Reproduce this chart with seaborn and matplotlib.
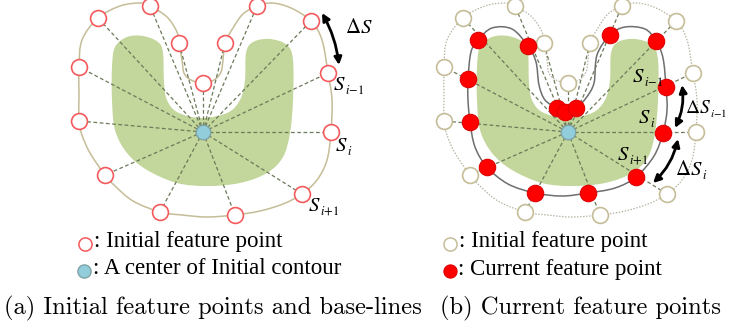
import numpy as np
import pandas as pd
import matplotlib
matplotlib.use("Agg")
import matplotlib.pyplot as plt
import seaborn as sns
from matplotlib.path import Path
from matplotlib.patches import PathPatch, FancyArrowPatch

# ---------------- data (pixel coordinates, panel-local) ----------------
init_x = [98, 150, 179, 203, 225, 257, 311, 328, 331, 302, 235, 160, 105, 79, 79]
init_y = [18, 6, 43, 83, 43, 6, 21, 73, 132, 194, 215, 212, 175, 121, 67]
center_xy = (203, 132)
cur_x = [113, 163, 192, 200, 211, 245, 291, 301, 298, 271, 223, 170, 122, 105, 103]
cur_y = [40, 46, 108, 112, 108, 35, 41, 87, 133, 177, 193, 193, 167, 122, 79]

# outline of the initial contour (passes through the initial feature points)
init_outline_x = [79, 82, 98, 120, 140, 150, 167, 177, 179, 182, 184, 191, 203, 214, 221, 223, 225,
                  233, 243, 257, 272, 291, 311, 322, 328, 332, 331, 327, 317, 302, 283, 260, 235,
                  207, 182, 160, 133, 114, 105, 90, 82, 79, 79]
init_outline_y = [67, 40, 18, 6, 3, 6, 17, 32, 43, 60, 73, 80, 83, 80, 72, 60, 43,
                  28, 14, 6, 3, 8, 21, 40, 73, 100, 132, 160, 180, 194, 204, 211, 215,
                  217, 215, 212, 201, 185, 175, 153, 135, 121, 95]
# outline of the current contour (passes through the current feature points)
cur_outline_x = [103, 106, 113, 127, 147, 163, 171, 174, 180, 192, 200, 211, 221, 229, 232, 245,
                 260, 280, 291, 298, 301, 302, 298, 289, 271, 250, 223, 197, 170, 143, 122, 110, 105, 103]
cur_outline_y = [79, 52, 40, 28, 29, 46, 62, 85, 100, 108, 112, 108, 98, 83, 55, 35,
                 27, 29, 41, 58, 87, 110, 133, 156, 177, 188, 193, 196, 193, 184, 167, 147, 122, 100]
# green object
obj_x = [112, 115, 127, 143, 158, 163, 164, 167, 177, 200, 227, 240, 245, 246, 253, 270, 287,
         293, 293, 290, 283, 267, 240, 207, 177, 147, 127, 115, 112]
obj_y = [67, 47, 37, 36, 42, 53, 83, 100, 112, 118, 113, 100, 80, 53, 42, 39, 45,
         60, 100, 133, 157, 173, 183, 186, 183, 170, 153, 130, 100]

legend_a = [": Initial feature point", ": A center of Initial contour"]
legend_b = [": Initial feature point", ": Current feature point"]
captions = ["(a) Initial feature points and base-lines", "(b) Current feature points"]

# ---------------- style ----------------
GREEN = "#c3d69b"
TAN = "#c4bd97"
RAY = "#6b7a5a"
RED_EDGE = "#f45a5c"
RED = "#ff0000"
BLUE = "#92cddc"

sns.set_theme(style="white")
plt.rcParams["mathtext.fontset"] = "stix"

fig = plt.figure(figsize=(7.29, 3.35), dpi=100)
ax = fig.add_axes([0, 0, 1, 1])
ax.set_xlim(0, 729)
ax.set_ylim(335, 0)


def smooth_path(xs, ys, dx=0.0):
    pts = np.column_stack([np.asarray(xs, float) + dx, np.asarray(ys, float)])
    n = len(pts)
    verts = [pts[0]]
    codes = [Path.MOVETO]
    for i in range(n):
        p0, p1, p2, p3 = pts[i - 1], pts[i], pts[(i + 1) % n], pts[(i + 2) % n]
        verts += [p1 + (p2 - p0) / 6.0, p2 - (p3 - p1) / 6.0, p2]
        codes += [Path.CURVE4] * 3
    verts.append(pts[0])
    codes.append(Path.CLOSEPOLY)
    return Path(verts, codes)


def draw_panel(dx, current):
    ax.add_patch(PathPatch(smooth_path(obj_x, obj_y, dx), facecolor=GREEN, edgecolor="none", zorder=1))
    if current:
        ax.add_patch(PathPatch(smooth_path(init_outline_x, init_outline_y, dx), facecolor="none",
                               edgecolor="#b8b4a4", lw=0.9, ls=(0, (1.2, 1.2)), zorder=2))
        ax.add_patch(PathPatch(smooth_path(cur_outline_x, cur_outline_y, dx), facecolor="none",
                               edgecolor="#6e6e6e", lw=1.1, zorder=2))
    else:
        ax.add_patch(PathPatch(smooth_path(init_outline_x, init_outline_y, dx), facecolor="none",
                               edgecolor=TAN, lw=1.1, zorder=2))
    cx, cy = center_xy[0] + dx, center_xy[1]
    for x, y in zip(init_x, init_y):
        ax.plot([cx, x + dx], [cy, y], color=RAY, lw=0.9, ls=(0, (3, 2)), zorder=3)
    df_init = pd.DataFrame({"x": np.array(init_x) + dx, "y": init_y})
    edge = TAN if current else RED_EDGE
    sns.scatterplot(data=df_init, x="x", y="y", ax=ax, s=130, color="white",
                    edgecolor=edge, linewidth=1.2, zorder=4, legend=False)
    if current:
        df_cur = pd.DataFrame({"x": np.array(cur_x) + dx, "y": cur_y})
        sns.scatterplot(data=df_cur, x="x", y="y", ax=ax, s=140, color=RED,
                        edgecolor="#e00000", linewidth=0.8, zorder=5, legend=False)
    df_c = pd.DataFrame({"x": [cx], "y": [cy]})
    sns.scatterplot(data=df_c, x="x", y="y", ax=ax, s=110, color=BLUE,
                    edgecolor="#7fa3a6", linewidth=1.0, zorder=6, legend=False)


draw_panel(0, False)
draw_panel(365, True)


def darrow(p, q, rad):
    ax.add_patch(FancyArrowPatch(p, q, arrowstyle="<|-|>", mutation_scale=11,
                                 connectionstyle=f"arc3,rad={rad}", color="black", lw=2, zorder=7,
                                 shrinkA=0, shrinkB=0))

darrow((322, 13), (339, 65), -0.1)
darrow((682, 85), (675, 128), -0.15)
darrow((678, 139), (653, 183), -0.15)

ax.set_xlim(0, 729)
ax.set_ylim(335, 0)
fig.canvas.draw()
renderer = fig.canvas.get_renderer()


def slabel(x, y, main, sub=None, size=15, sub_size=9):
    t = ax.text(x, y, main, fontsize=size, color="black", ha="left", va="baseline", zorder=8)
    if sub:
        bb = t.get_window_extent(renderer)
        xr = ax.transData.inverted().transform((bb.x1, bb.y0))[0]
        ax.text(xr - 0.5, y + 4, sub, fontsize=sub_size, color="black",
                ha="left", va="baseline", zorder=8)

slabel(345, 33, r"$\Delta S$")
slabel(333, 90, r"$S$", r"$i{-}1$")
slabel(335, 151, r"$S$", r"$i$")
slabel(308, 211, r"$S$", r"$i{+}1$")
slabel(632, 82, r"$S$", r"$i{-}1$")
slabel(638, 123, r"$S$", r"$i$")
slabel(617, 160, r"$S$", r"$i{+}1$")
slabel(685, 113, r"$\Delta S$", r"$i{-}1$", size=14, sub_size=8)
slabel(675, 175, r"$\Delta S$", r"$i$")

# legends
leg_font = dict(family="Liberation Serif", fontsize=16.5, va="center", ha="left", color="black")
ax.scatter([85], [244], s=90, facecolor="white", edgecolor=RED_EDGE, lw=1.1, zorder=4)
ax.scatter([84], [271], s=90, facecolor=BLUE, edgecolor="#7fa3a6", lw=1.0, zorder=4)
ax.text(94, 242, legend_a[0], **leg_font)
ax.text(93, 269, legend_a[1], **leg_font)
ax.scatter([450], [244], s=90, facecolor="white", edgecolor=TAN, lw=1.1, zorder=4)
ax.scatter([450], [271], s=90, facecolor=RED, edgecolor="#e00000", lw=0.8, zorder=4)
ax.text(459, 242, legend_b[0], **leg_font)
ax.text(458, 269, legend_b[1], **leg_font)

cap_font = dict(family="cmr10", fontsize=17.7, va="center", ha="left", color="black")
ax.text(4, 308, captions[0], **cap_font)
ax.text(440, 308, captions[1], **cap_font)

ax.set_axis_off()
fig.savefig("out.png", dpi=100)
